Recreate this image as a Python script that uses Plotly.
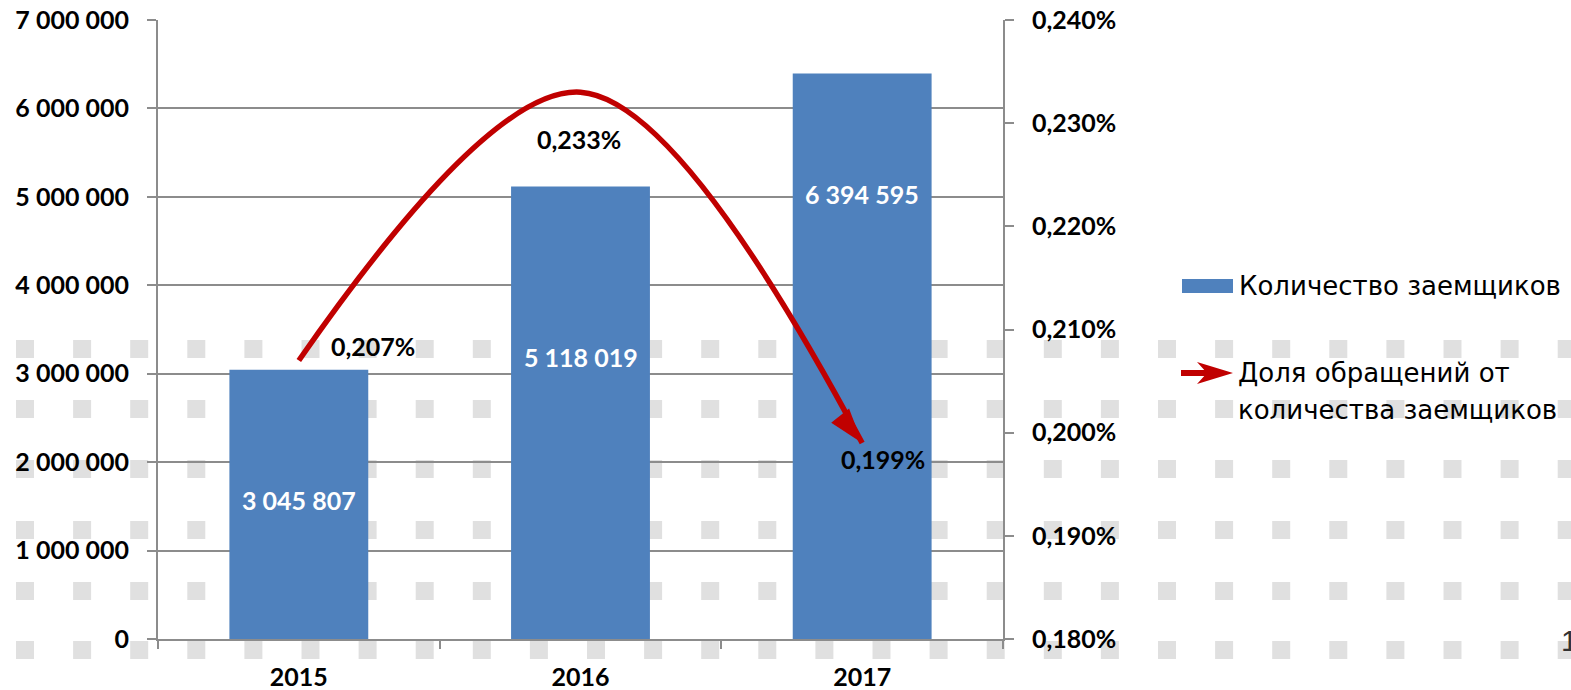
import plotly.graph_objects as go

# ---- data ----
years = ["2015", "2016", "2017"]
borrowers = [3045807, 5118019, 6394595]
share = [0.00207, 0.00233, 0.00199]
bar_labels = ["3 045 807", "5 118 019", "6 394 595"]
share_labels = ["0,207%", "0,233%", "0,199%"]
legend_bar = "Количество заемщиков"
legend_line = ["Доля обращений от", "количества заемщиков"]

# label placement (styling, not data)
bar_label_y = [1.57e6, 3.19e6, 5.03e6]
share_label_shift = [(74, 14), (-2, -47), (21, -16)]

# plot geometry in pixels
W, H = 1571, 690
L, R, T, B = 158, 1003, 20, 639


def px(x):
    return (x - L) / (R - L)


def py(y):
    return (B - y) / (B - T)


RED = "#c00000"
BLUE = "#4f81bd"
GRID = "#8c8c8c"
FONT_B = dict(family="Lato", size=25, color="black", weight="bold")
LEG_FONT = dict(family="DejaVu Sans", size=26, color="black")

fig = go.Figure()
fig.add_trace(go.Bar(x=years, y=borrowers, marker=dict(color=BLUE, line_width=0),
                     yaxis="y", showlegend=False, hoverinfo="skip"))
fig.add_trace(go.Scatter(
    x=years, y=share, yaxis="y2", mode="lines+markers", showlegend=False,
    line=dict(color=RED, width=5.5, shape="spline", smoothing=1),
    marker=dict(symbol=["circle", "circle", "arrow"], size=[0, 0, 37],
                angleref="previous", color=RED, opacity=1, line_width=0),
))

ann = []
for i, (ly, t) in enumerate(zip(bar_label_y, bar_labels)):
    ann.append(dict(x=i, y=ly, xref="x", yref="y", text=t, showarrow=False,
                    font=dict(family="Lato", size=25, color="white", weight="bold")))
for i, (v, t, (dx, dy)) in enumerate(zip(share, share_labels, share_label_shift)):
    ann.append(dict(x=i, y=v, xref="x", yref="y2", text=t, showarrow=False,
                    xshift=dx, yshift=dy, font=FONT_B))

shapes = []
# background decorative squares
rows = [349, 409, 469, 530, 591, 650]
for ry in rows:
    for i in range(28):
        cx = 25 + 57.1 * i
        shapes.append(dict(type="rect", xref="paper", yref="paper", layer="below",
                           x0=px(cx - 9), x1=px(cx + 9), y0=py(ry + 9), y1=py(ry - 9),
                           fillcolor="#e0e0e0", line_width=0))
# custom legend
shapes.append(dict(type="rect", xref="paper", yref="paper",
                   x0=px(1182), x1=px(1233), y0=py(293), y1=py(279),
                   fillcolor=BLUE, line_width=0))
shapes.append(dict(type="line", xref="paper", yref="paper",
                   x0=px(1181), x1=px(1210), y0=py(373), y1=py(373),
                   line=dict(color=RED, width=6)))
shapes.append(dict(type="path", xref="paper", yref="paper", fillcolor=RED, line_width=0,
                   path="M{},{} L{},{} L{},{} L{},{} Z".format(
                       px(1233), py(373), px(1197), py(362), px(1207), py(373),
                       px(1197), py(384))))

ann.append(dict(x=px(1237), y=py(286), xref="paper", yref="paper", text=legend_bar,
                xanchor="left", yanchor="middle", showarrow=False, font=LEG_FONT))
for k, line in enumerate(legend_line):
    ann.append(dict(x=px(1236), y=py(373 + 37 * k), xref="paper", yref="paper", text=line,
                    xanchor="left", yanchor="middle", showarrow=False, font=LEG_FONT))
ann.append(dict(x=px(1559), y=py(640), xref="paper", yref="paper", text="1",
                xanchor="left", yanchor="middle", showarrow=False,
                font=dict(family="Liberation Sans", size=30, color="#333333")))

axis_common = dict(showline=True, linecolor=GRID, linewidth=2, ticks="outside",
                   tickcolor=GRID, tickwidth=2, tickfont=FONT_B, automargin=False)

fig.update_layout(
    width=W, height=H, autosize=False,
    margin=dict(l=L, r=W - R, t=T, b=H - B, pad=0),
    paper_bgcolor="white", plot_bgcolor="rgba(0,0,0,0)",
    separators=", ",
    bargap=0.507,
    xaxis=dict(type="category", categoryorder="array", categoryarray=years,
               range=[-0.5, 2.5], tickson="boundaries", ticklen=8, showgrid=False,
               tickangle=0, ticklabelstandoff=15, **axis_common),
    yaxis=dict(range=[0, 7e6], dtick=1e6, tickformat=",d", ticklen=9,
               showgrid=True, gridcolor=GRID, gridwidth=2, zeroline=False,
               ticklabelstandoff=13, **axis_common),
    yaxis2=dict(overlaying="y", side="right", range=[0.0018, 0.0024], dtick=0.0001,
                tickformat=".3%", ticklen=9, showgrid=False, zeroline=False,
                ticklabelstandoff=13, **axis_common),
    annotations=ann,
    shapes=shapes,
    showlegend=False,
)

fig.write_html("out.html", config={"displayModeBar": False},
               post_script="document.body.style.margin='0';document.body.style.overflow='hidden';")
